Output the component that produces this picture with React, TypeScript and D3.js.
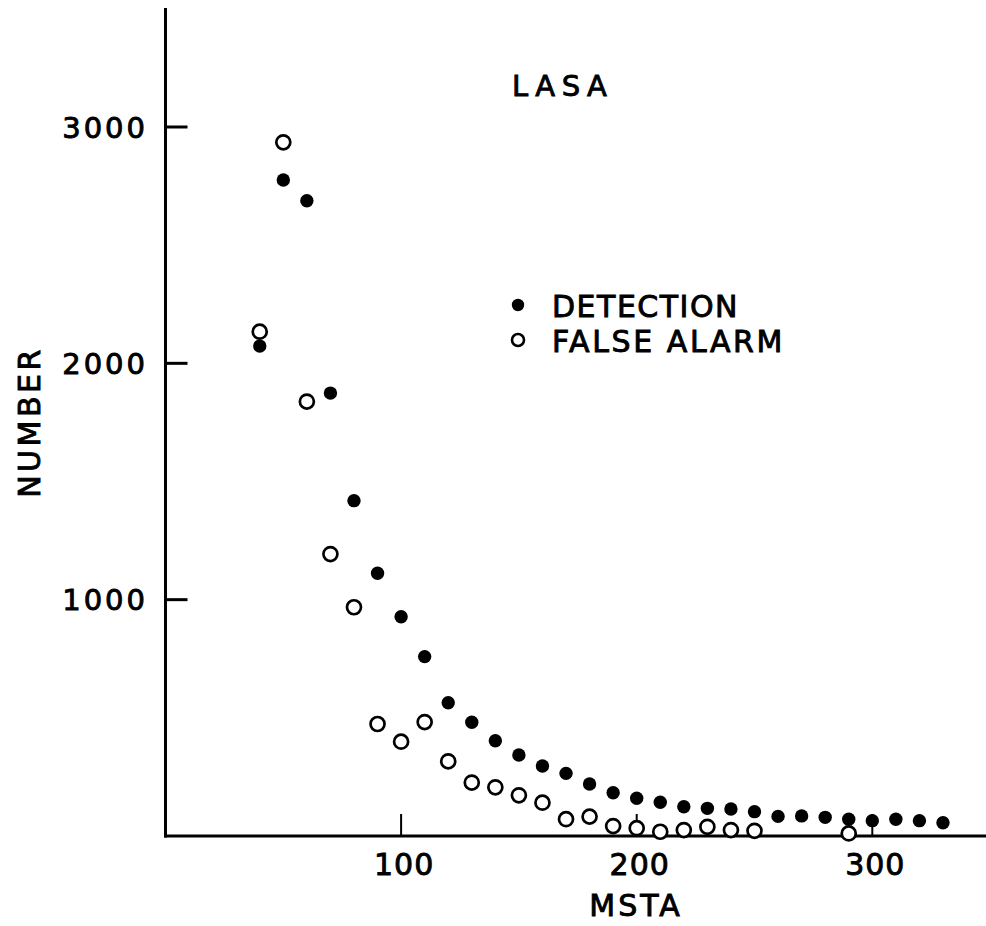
import React from 'react';
import * as d3 from 'd3';

const detectionMsta = [40, 50, 60, 70, 80, 90, 100, 110, 120, 130, 140, 150, 160, 170, 180, 190, 200, 210, 220, 230, 240, 250, 260, 270, 280, 290, 300, 310, 320, 330];
const detection = [2073, 2776, 2688, 1874, 1419, 1112, 928, 759, 564, 481, 403, 343, 296, 265, 220, 183, 160, 143, 124, 117, 114, 103, 83, 85, 79, 71, 65, 71, 65, 56];
const falseAlarmMsta = [40, 50, 60, 70, 80, 90, 100, 110, 120, 130, 140, 150, 160, 170, 180, 190, 200, 210, 220, 230, 240, 250, 290];
const falseAlarm = [2134, 2935, 1838, 1193, 968, 474, 399, 482, 316, 226, 206, 172, 141, 71, 82, 42, 33, 18, 25, 39, 25, 22, 11];
const xTicks = [100, 200, 300];
const yTicks = [1000, 2000, 3000];
const legendLabels = ['DETECTION', 'FALSE ALARM'];
const title = 'LASA';
const xTitle = 'MSTA';
const yTitle = 'NUMBER';

const W = 986;
const H = 926;
const FONT = '"DejaVu Sans", sans-serif';

export default function App() {
  const x = d3.scaleLinear().domain([0, 350]).range([165.5, 165.5 + 350 * 2.356]);
  const y = d3.scaleLinear().domain([0, 3000]).range([836, 127]);
  const x0 = x(0);
  const y0 = y(0);
  const sw = 3;
  const txt = { stroke: '#000', strokeWidth: 0.9, fill: '#000' };

  return (
    <svg width={W} height={H} style={{ position: 'absolute', left: 0, top: 0, background: '#fff' }}
      fontFamily={FONT} fill="#000">
      <rect x={0} y={0} width={W} height={H} fill="#fff" />
      {/* axes */}
      <line x1={x0} y1={8} x2={x0} y2={y0 + 1.5} stroke="#000" strokeWidth={sw} />
      <line x1={x0 - 1.5} y1={y0} x2={W} y2={y0} stroke="#000" strokeWidth={sw} />
      {yTicks.map(t => (
        <g key={'y' + t}>
          <line x1={x0} x2={x0 + 22} y1={y(t)} y2={y(t)} stroke="#000" strokeWidth={sw} />
          <text x={148} y={y(t) + 10.5} textAnchor="end" fontSize={29} letterSpacing={3} {...txt}>{t}</text>
        </g>
      ))}
      {xTicks.map(t => (
        <g key={'x' + t}>
          <line x1={x(t)} x2={x(t)} y1={y0} y2={y0 - 22} stroke="#000" strokeWidth={2} />
          <text x={x(t) + 3} y={875} textAnchor="middle" fontSize={30} letterSpacing={1} {...txt}>{t}</text>
        </g>
      ))}
      <text x={636} y={916} textAnchor="middle" fontSize={30} letterSpacing={3} {...txt}>{xTitle}</text>
      <text transform={`translate(40,422) rotate(-90)`} textAnchor="middle" fontSize={30} letterSpacing={3.5} {...txt}>{yTitle}</text>
      <text x={512} y={96} fontSize={29} letterSpacing={6.5} {...txt}>{title}</text>
      {/* legend */}
      <circle cx={518} cy={305} r={6.2} fill="#000" />
      <text x={552} y={317} fontSize={30} letterSpacing={1.5} {...txt}>{legendLabels[0]}</text>
      <circle cx={518} cy={340} r={6} fill="#fff" stroke="#000" strokeWidth={2.6} />
      <text x={552} y={352} fontSize={30} letterSpacing={2.6} {...txt}>{legendLabels[1]}</text>
      {/* data */}
      {detection.map((v, i) => (
        <circle key={'d' + i} cx={x(detectionMsta[i])} cy={y(v)} r={6.7} fill="#000" />
      ))}
      {falseAlarm.map((v, i) => (
        <circle key={'f' + i} cx={x(falseAlarmMsta[i])} cy={y(v)} r={7} fill="#fff" stroke="#000" strokeWidth={2.7} />
      ))}
    </svg>
  );
}
